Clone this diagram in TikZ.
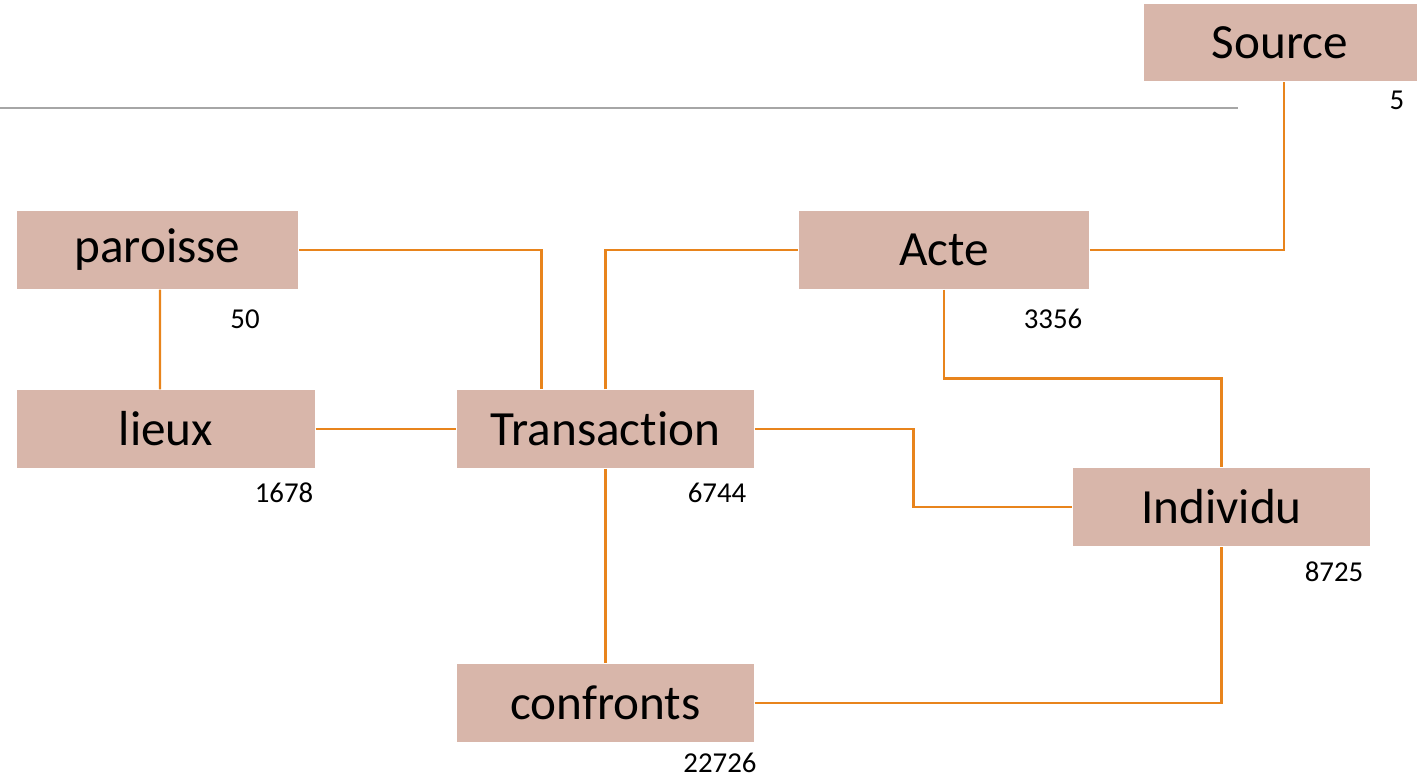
\documentclass[tikz,border=0pt]{standalone}
\usepackage{fontspec}
\setmainfont{Carlito}[RawFeature={-liga;-clig;-calt;-dlig}]
\definecolor{boxfill}{HTML}{D8B6AA}
\definecolor{linkorange}{HTML}{E8841C}
\definecolor{rulegray}{HTML}{A6A6A6}
\tikzset{
	table/.style={rectangle, fill=boxfill, minimum height=0.78cm, minimum width=2.97cm, inner sep=0pt, font=\fontsize{14}{17}\selectfont},
	count/.style={inner sep=0pt, font=\fontsize{8.2}{10}\selectfont},
	link/.style={draw=linkorange, line width=0.7pt}
}
\begin{document}
\begin{tikzpicture}
		\useasboundingbox (0,0) rectangle (14.21,7.76);
		\draw[rulegray, line width=0.45pt] (0,6.68) -- (12.38,6.68);
		
		\node (source) [table, minimum width=2.73cm, minimum height=0.77cm] at (12.80,7.335) {Source};
		\node (paroisse) [table, minimum width=2.81cm] at (1.575,5.26) {paroisse};
		\node (acte) [table, minimum width=2.90cm] at (9.44,5.26) {Acte};
		\node (lieux) [table, minimum width=2.98cm] at (1.66,3.47) {lieux};
		\node (transaction) [table] at (6.055,3.47) {Transaction};
		\node (individu) [table] at (12.215,2.69) {Individu};
		\node (confronts) [table] at (6.055,0.73) {confronts};
		
		\node (nsource) [count] at (13.97,6.76) {5};
		\node (nparoisse) [count] at (2.45,4.57) {50};
		\node (nacte) [count] at (10.53,4.57) {3356};
		\node (nlieux) [count] at (2.84,2.83) {1678};
		\node (ntransaction) [count] at (7.17,2.83) {6744};
		\node (nindividu) [count] at (13.34,2.04) {8725};
		\node (nconfronts) [count] at (7.20,0.13) {22726};
		
		\draw[link] (paroisse.east) -| ([xshift=-0.64cm]transaction.north);
		\draw[link] (transaction.north) |- (acte.west);
		\draw[link] (acte.east) -| ([xshift=0.04cm]source.south);
		\draw[link] ([xshift=0.025cm]paroisse.south) -- ([xshift=-0.06cm]lieux.north);
		\draw[link] (lieux.east) -- (transaction.west);
		\draw[link] (transaction.east) -- ++(1.59,0) |- (individu.west);
		\draw[link] (acte.south) -- ++(0,-0.89) -| (individu.north);
		\draw[link] (transaction.south) -- (confronts.north);
		\draw[link] (confronts.east) -| (individu.south);
	\end{tikzpicture}
\end{document}
